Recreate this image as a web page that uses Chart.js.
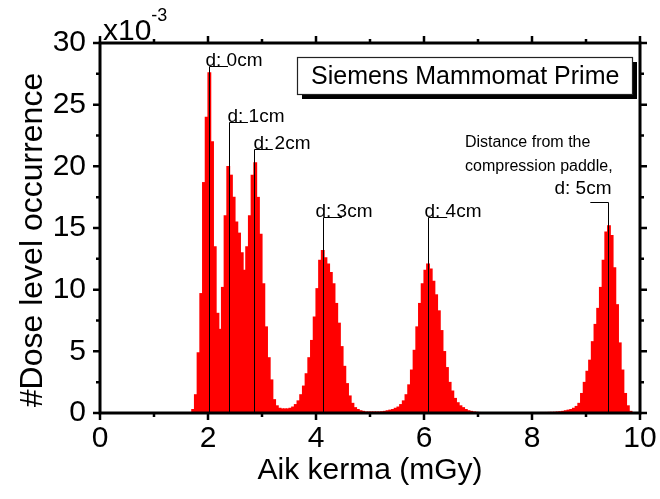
<!DOCTYPE html>
<html><head><meta charset="utf-8">
<script src="https://cdn.jsdelivr.net/npm/chart.js@4/dist/chart.umd.min.js"></script>
<style>html,body{margin:0;padding:0;background:#fff;}#wrap{width:660px;height:499px;position:relative;}</style>
</head><body><div id="wrap"><canvas id="c" width="660" height="499"></canvas></div>
<script>
// Histogram bins (mGy) — left edge of first bin and bin width
const binStart = 1.70;
const binWidth = 0.05;
// Dose level occurrence per bin (x10^-3)
const doseValues = [
  0.3, 1.5, 4.9, 9.7, 18.7, 24.0, 27.6, 22.0, 13.5, 8.1,      // 1.70-2.15
  6.8, 10.2, 16.0, 20.0, 19.3, 17.5, 15.5, 14.6, 13.0, 11.6,  // 2.20-2.65
  13.5, 16.0, 19.3, 20.3, 17.5, 14.5, 10.5, 7.0, 4.5, 2.7,    // 2.70-3.15
  1.1, 0.6, 0.4, 0.35, 0.35, 0.35, 0.4, 0.5, 0.7, 1.0,        // 3.20-3.65
  1.5, 2.2, 3.2, 4.5, 5.9, 7.8, 10.1, 12.4, 13.2, 12.6,       // 3.70-4.15
  12.1, 11.4, 10.5, 8.9, 7.3, 5.4, 3.8, 2.4, 1.4, 0.8,        // 4.20-4.65
  0.45, 0.3, 0.2, 0.15, 0.1, 0.1, 0.1, 0.1, 0.1, 0.1,         // 4.70-5.15
  0.12, 0.15, 0.2, 0.25, 0.3, 0.4, 0.5, 0.7, 1.0, 1.5,        // 5.20-5.65
  2.3, 3.5, 5.1, 7.0, 8.9, 10.5, 11.6, 12.1, 11.7, 10.7,      // 5.70-6.15
  9.6, 8.3, 6.7, 5.0, 3.7, 2.5, 1.8, 1.2, 0.85, 0.6,          // 6.20-6.65
  0.45, 0.3, 0.2, 0.15, 0.1, 0.08,                            // 6.70-6.95
  0.06, 0.05, 0.05, 0.05, 0.05, 0.04, 0.04, 0.04, 0.04, 0.04, // 7.00-7.45
  0.04, 0.04, 0.04, 0.04, 0.04, 0.04, 0.04, 0.04, 0.05, 0.05, // 7.50-7.95
  0.05, 0.05, 0.05, 0.06, 0.06, 0.06, 0.07, 0.07,             // 8.00-8.35
  0.08, 0.1, 0.12, 0.15, 0.2, 0.25, 0.3, 0.4, 0.55, 0.8,      // 8.40-8.85
  1.6, 2.5, 3.4, 4.3, 5.8, 7.2, 8.5, 10.2, 12.4, 14.7,        // 8.90-9.35
  15.2, 14.4, 11.8, 8.8, 5.7, 3.5, 1.6, 0.6, 0.15             // 9.40-9.80
];
const xTickValues = [0, 2, 4, 6, 8, 10];
const yTickValues = [0, 5, 10, 15, 20, 25, 30];
const xTitle = 'Aik kerma (mGy)';
const yTitle = '#Dose level occurrence';
const legendText = 'Siemens Mammomat Prime';
const peakLabels = ['d: 0cm', 'd: 1cm', 'd: 2cm', 'd: 3cm', 'd: 4cm', 'd: 5cm'];
const peakX = [2.02, 2.39, 2.85, 4.13, 6.08, 9.41];
const peakTopY = [28.1, 23.6, 21.4, 15.9, 15.9, 17.1];
const noteLines = ['Distance from the', 'compression paddle,'];

const points = doseValues.map((v, i) => ({ x: +(binStart + binWidth * (i + 0.5)).toFixed(3), y: v }));

const FONT = '"Liberation Sans", Arial, Helvetica, sans-serif';

const decor = {
  id: 'decor',
  afterDraw(chart) {
    const { ctx, chartArea: a, scales: { x, y } } = chart;
    ctx.save();
    // annotation lines
    ctx.strokeStyle = '#000';
    ctx.lineWidth = 1;
    const hook = [0.35, 0.35, 0.35, 0.35, 0.35, -0.33];
    const textDx = [-4, -2, -1, -8, -4, 3];
    peakX.forEach((px, i) => {
      const X = Math.round(x.getPixelForValue(px)) + 0.5;
      const Y0 = y.getPixelForValue(0);
      const Y1 = Math.round(y.getPixelForValue(peakTopY[i])) + 0.5;
      const X2 = x.getPixelForValue(px + hook[i]);
      ctx.beginPath();
      ctx.moveTo(X, Y0);
      ctx.lineTo(X, Y1);
      ctx.lineTo(X2, Y1);
      ctx.stroke();
      ctx.fillStyle = '#000';
      ctx.font = '19px ' + FONT;
      ctx.textBaseline = 'alphabetic';
      if (i < 5) {
        ctx.textAlign = 'left';
        ctx.fillText(peakLabels[i], X + textDx[i], Y1 - 1);
      } else {
        ctx.textAlign = 'right';
        ctx.fillText(peakLabels[i], X + textDx[i], Y1 - 9);
      }
    });
    // note
    ctx.font = '16px ' + FONT;
    ctx.textAlign = 'left';
    ctx.fillText(noteLines[0], a.left + 365, a.top + 104);
    ctx.fillText(noteLines[1], a.left + 365, a.top + 128);

    // legend box with shadow
    const bx = a.left + 197, by = a.top + 14, bw = 335, bh = 37;
    ctx.fillStyle = '#000';
    ctx.fillRect(bx + 5, by + 5, bw, bh);
    ctx.fillStyle = '#fff';
    ctx.fillRect(bx, by, bw, bh);
    ctx.strokeStyle = '#222';
    ctx.lineWidth = 1.2;
    ctx.strokeRect(bx + 0.5, by + 0.5, bw, bh);
    ctx.fillStyle = '#000';
    ctx.font = '25px ' + FONT;
    ctx.fillText(legendText, bx + 14, by + 27);

    // frame
    ctx.strokeStyle = '#000';
    ctx.lineWidth = 3;
    ctx.strokeRect(a.left, a.top, a.right - a.left, a.bottom - a.top);
    ctx.lineWidth = 2.5;
    ctx.beginPath();
    for (let v = 0; v <= 10; v += 1) {
      const X = x.getPixelForValue(v);
      const L = (v % 2 === 0) ? 7 : 4;
      ctx.moveTo(X, a.bottom); ctx.lineTo(X, a.bottom + L);
      ctx.moveTo(X, a.top); ctx.lineTo(X, a.top - L);
    }
    for (let v = 0; v <= 30; v += 2.5) {
      const Y = y.getPixelForValue(v);
      const L = (v % 5 === 0) ? 7 : 4;
      ctx.moveTo(a.left, Y); ctx.lineTo(a.left - L, Y);
      ctx.moveTo(a.right, Y); ctx.lineTo(a.right + L, Y);
    }
    ctx.stroke();

    // y title (rotated)
    ctx.save();
    ctx.translate(33, 240);
    ctx.rotate(-Math.PI / 2);
    ctx.font = '32px ' + FONT;
    ctx.textAlign = 'center';
    ctx.textBaseline = 'middle';
    ctx.fillStyle = '#000';
    ctx.fillText(yTitle, 0, 0);
    ctx.restore();

    // multiplier x10^-3
    ctx.fillStyle = '#000';
    ctx.textAlign = 'left';
    ctx.textBaseline = 'alphabetic';
    ctx.font = '30px ' + FONT;
    ctx.fillText('x10', a.left + 3, a.top - 3);
    const w = ctx.measureText('x10').width;
    ctx.font = '18px ' + FONT;
    ctx.fillText('-3', a.left + 3 + w, a.top - 22);
    ctx.restore();
  }
};

new Chart(document.getElementById('c'), {
  type: 'bar',
  data: {
    datasets: [{
      data: points,
      backgroundColor: '#ff0000',
      borderColor: '#ff0000',
      borderWidth: 0,
      inflateAmount: 0.3,
      barPercentage: 1.2,
      categoryPercentage: 1.0
    }]
  },
  options: {
    responsive: false,
    animation: false,
    devicePixelRatio: 1,
    layout: { padding: { left: 0, right: 20, top: 43, bottom: 0 } },
    plugins: { legend: { display: false }, tooltip: { enabled: false } },
    scales: {
      x: {
        type: 'linear',
        offset: false,
        min: 0, max: 10,
        afterBuildTicks: s => { s.ticks = xTickValues.map(v => ({ value: v })); },
        afterFit: s => { s.height = 86; },
        grid: { display: false, offset: false },
        border: { display: false },
        ticks: { color: '#000', font: { size: 30, family: FONT }, padding: 0, maxRotation: 0 },
        title: { display: true, text: xTitle, color: '#000', font: { size: 30, family: FONT }, padding: { top: 0, bottom: 10 } }
      },
      y: {
        min: 0, max: 30,
        afterBuildTicks: s => { s.ticks = yTickValues.map(v => ({ value: v })); },
        afterFit: s => { s.width = 100; },
        grid: { display: false },
        border: { display: false },
        ticks: { color: '#000', font: { size: 30, family: FONT }, padding: 6 }
      }
    }
  },
  plugins: [decor]
});
</script>
</body></html>
